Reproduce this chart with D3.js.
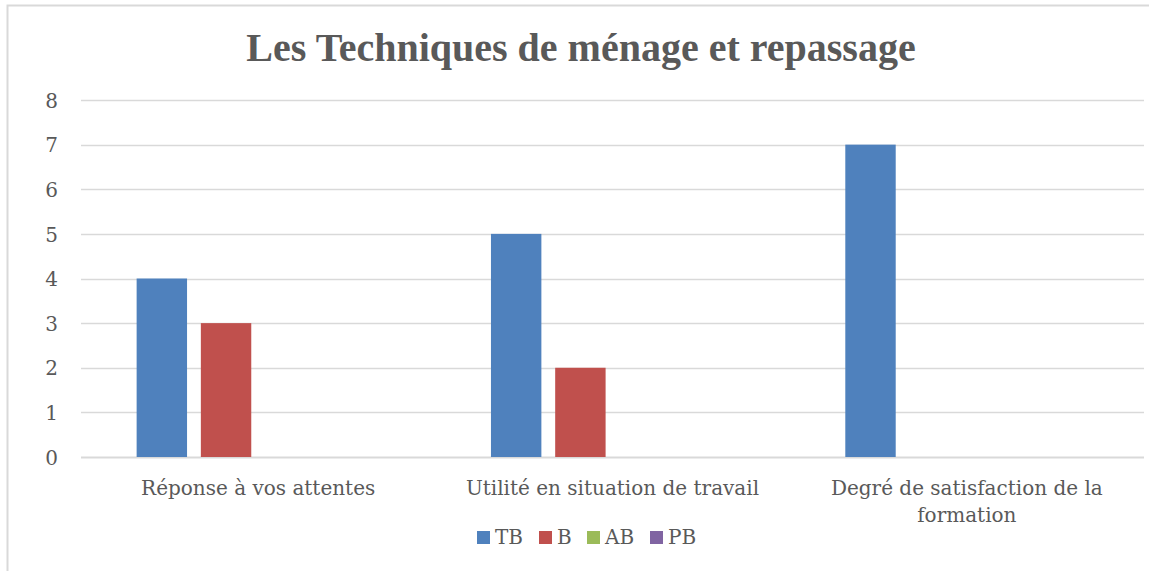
<!DOCTYPE html>
<html>
<head>
<meta charset="utf-8">
<script src="https://cdn.jsdelivr.net/npm/d3@7"></script>
<style>
  html, body { margin: 0; padding: 0; background: #fff; }
  svg { display: block; }
  text { fill: #595959; }
</style>
</head>
<body>
<svg id="chart" width="1149" height="571"></svg>
<script>
const title = "Les Techniques de ménage et repassage";
const categories = ["Réponse à vos attentes", "Utilité en situation de travail", "Degré de satisfaction de la formation"];
const seriesNames = ["TB", "B", "AB", "PB"];
const seriesColors = ["#4f81bd", "#c0504d", "#9bbb59", "#8064a2"];
const valuesTB = [4, 5, 7];
const valuesB = [3, 2, 0];
const valuesAB = [0, 0, 0];
const valuesPB = [0, 0, 0];
const yTicks = [0, 1, 2, 3, 4, 5, 6, 7, 8];

const seriesValues = [valuesTB, valuesB, valuesAB, valuesPB];

const bodyFont = '"DejaVu Serif", serif';
const titleFont = '"Liberation Serif", serif';

const svg = d3.select("#chart");
const W = 1149, H = 571;
const plot = { left: 81, right: 1144, top: 100, bottom: 457 };

// frame
svg.append("path")
  .attr("d", `M7.5,${H + 2}V5.5H${W + 2}`)
  .attr("fill", "none").attr("stroke", "#d9d9d9").attr("stroke-width", 2);

// title
svg.append("text")
  .attr("x", 581).attr("y", 61)
  .attr("text-anchor", "middle")
  .style("font-family", titleFont)
  .style("font-weight", "bold")
  .style("font-size", "40px")
  .text(title);

const y = d3.scaleLinear().domain([0, 8]).range([plot.bottom, plot.top]);
const x0 = d3.scaleBand().domain(categories).range([plot.left, plot.right]).paddingInner(0).paddingOuter(0);
const bw = x0.bandwidth();
const outerGap = bw * 0.157;
const x1 = d3.scaleBand().domain(seriesNames).range([outerGap, bw - outerGap]).paddingInner(0.215).paddingOuter(0);

// gridlines
svg.append("g").selectAll("line").data(yTicks).join("line")
  .attr("x1", plot.left).attr("x2", plot.right)
  .attr("y1", d => Math.round(y(d)) + 0.5).attr("y2", d => Math.round(y(d)) + 0.5)
  .attr("stroke", "#d9d9d9").attr("stroke-width", d => d === 0 ? 2 : 1.5);

// y axis labels
const yAxis = d3.axisLeft(y).tickValues(yTicks).tickSize(0).tickPadding(0).tickFormat(d3.format("d"));
const gy = svg.append("g").attr("transform", `translate(${plot.left - 23},0)`).call(yAxis);
gy.select(".domain").remove();
gy.selectAll("text").attr("fill", "#595959").attr("dy", "0.36em")
  .style("font-family", bodyFont).style("font-size", "20px");

// bars
const rows = categories.map((c, i) => ({ cat: c, vals: seriesNames.map((s, j) => ({ s, j, v: seriesValues[j][i] })) }));
const groups = svg.append("g").selectAll("g").data(rows).join("g")
  .attr("transform", d => `translate(${x0(d.cat)},0)`);
groups.selectAll("rect").data(d => d.vals.filter(e => e.v > 0)).join("rect")
  .attr("x", d => x1(d.s))
  .attr("width", x1.bandwidth())
  .attr("y", d => y(d.v))
  .attr("height", d => y(0) - y(d.v))
  .attr("fill", d => seriesColors[d.j]);

// category labels with wrapping
const xAxis = d3.axisBottom(x0).tickSize(0).tickPadding(0);
const gx = svg.append("g").attr("transform", `translate(0,${plot.bottom})`).call(xAxis);
gx.select(".domain").remove();
gx.selectAll("text").attr("fill", "#595959").attr("dy", null).attr("y", 38)
  .style("font-family", bodyFont).style("font-size", "20px")
  .each(function(d) {
    const t = d3.select(this);
    const words = d.split(" ");
    t.text(null);
    let line = [];
    let tspan = t.append("tspan").attr("x", 0).attr("y", 38);
    let lineNo = 0;
    for (const w of words) {
      line.push(w);
      tspan.text(line.join(" "));
      if (tspan.node().getComputedTextLength() > bw - 20 && line.length > 1) {
        line.pop();
        tspan.text(line.join(" "));
        line = [w];
        lineNo++;
        tspan = t.append("tspan").attr("x", 0).attr("y", 38 + lineNo * 27).text(w);
      }
    }
  });

// legend
const legendX = [477, 539, 587, 650];
const lg = svg.append("g").selectAll("g").data(seriesNames).join("g")
  .attr("transform", (d, i) => `translate(${legendX[i]},0)`);
lg.append("rect").attr("x", 0).attr("y", 531).attr("width", 13).attr("height", 13)
  .attr("fill", (d, i) => seriesColors[i]);
lg.append("text").attr("x", 18).attr("y", 544)
  .style("font-family", bodyFont).style("font-size", "20px").text(d => d);
</script>
</body>
</html>
